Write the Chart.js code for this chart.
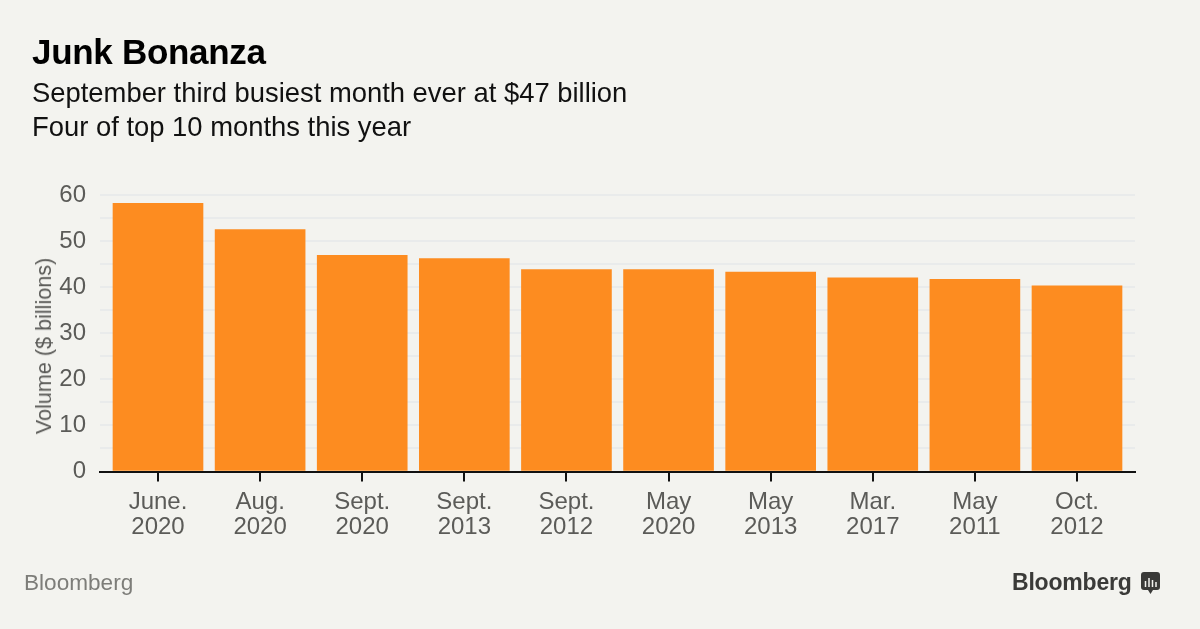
<!DOCTYPE html>
<html>
<head>
<meta charset="utf-8">
<title>Junk Bonanza</title>
<script src="https://cdn.jsdelivr.net/npm/chart.js@4"></script>
<style>
  html, body { margin: 0; padding: 0; background: #f3f3ef; }
  body { width: 1200px; height: 629px; position: relative; overflow: hidden; font-family: "Liberation Sans", Arial, sans-serif; }
  canvas { position: absolute; left: 0; top: 0; }
  .txt { position: absolute; white-space: nowrap; }
  #title { left: 32px; top: 32px; font-size: 35px; font-weight: bold; color: #000; letter-spacing: -0.3px; }
  .sub { left: 32px; font-size: 27.4px; color: #111; }
  #yTitle { left: 44px; top: 346px; font-size: 21.6px; color: #5b5b58; transform: translate(-50%, -50%) rotate(-90deg); }
  #source { left: 24px; top: 570px; font-size: 22.6px; color: #7d7d79; }
  #logo { left: 1012px; top: 569px; font-size: 23px; font-weight: bold; color: #3a3a38; letter-spacing: -0.2px; }
  #icon { position: absolute; left: 1141px; top: 572px; }
</style>
</head>
<body>
<canvas id="myChart" width="1200" height="629"></canvas>
<div class="txt" id="title">Junk Bonanza</div>
<div class="txt sub" style="top:77px">September third busiest month ever at $47 billion</div>
<div class="txt sub" style="top:111px">Four of top 10 months this year</div>
<div class="txt" id="yTitle">Volume ($ billions)</div>
<div class="txt" id="source">Bloomberg</div>
<div class="txt" id="logo">Bloomberg</div>
<svg id="icon" width="19" height="23" viewBox="0 0 19 23">
  <path d="M3 0H16a3 3 0 0 1 3 3V15a3 3 0 0 1-3 3H12L9.500 22L7 18H3a3 3 0 0 1-3-3V3a3 3 0 0 1 3-3Z" fill="#3a3a38"/>
  <path d="M4.500 9v6M8 6v9M11.500 8v7M15 10v5" stroke="#f3f3ef" stroke-width="1.500"/>
</svg>

<script>
// Chart values
const months = [['June.', '2020'], ['Aug.', '2020'], ['Sept.', '2020'], ['Sept.', '2013'], ['Sept.', '2012'],
                ['May', '2020'], ['May', '2013'], ['Mar.', '2017'], ['May', '2011'], ['Oct.', '2012']];
const volume = [58.2, 52.5, 46.9, 46.2, 43.8, 43.8, 43.3, 42, 41.7, 40.3];

const gray = '#5b5b58';
const fontFamily = '"Liberation Sans", Arial, sans-serif';

new Chart(document.getElementById('myChart'), {
    type: 'bar',
    data: {
        datasets: [{
            data: volume.map((v, i) => ({ x: i, y: v })),
            backgroundColor: '#fd8c20',
            barThickness: 90
        }]
    },
    options: {
        responsive: false,
        animation: false,
        layout: { padding: { top: 195, right: 65 } },
        plugins: { legend: { display: false }, tooltip: { enabled: false } },
        scales: {
            x: {
                type: 'linear',
                offset: false,
                // wider than the bars so the axis runs past them on both sides
                min: -0.568,
                max: 9.568,
                afterFit: (scale) => { scale.height = 157.5; },
                border: { color: '#111', width: 2 },
                grid: { offset: false, drawOnChartArea: false, color: '#111', tickColor: '#111', tickLength: 10, lineWidth: 2 },
                ticks: {
                    stepSize: 1,
                    includeBounds: false,
                    autoSkip: false,
                    maxRotation: 0,
                    padding: 8,
                    color: gray,
                    font: { family: fontFamily, size: 24, lineHeight: 1.05 },
                    callback: (v) => months[v]
                }
            },
            y: {
                min: 0,
                max: 60,
                afterFit: (scale) => { scale.width = 100; },
                border: { display: false },
                grid: { color: '#e9ebeb', lineWidth: 2, drawTicks: false },
                ticks: {
                    stepSize: 5,
                    autoSkip: false,
                    padding: 14,
                    color: gray,
                    font: { family: fontFamily, size: 24 },
                    callback: (v) => (v % 10 === 0 ? v : '')
                }
            }
        }
    }
});
</script>
</body>
</html>
